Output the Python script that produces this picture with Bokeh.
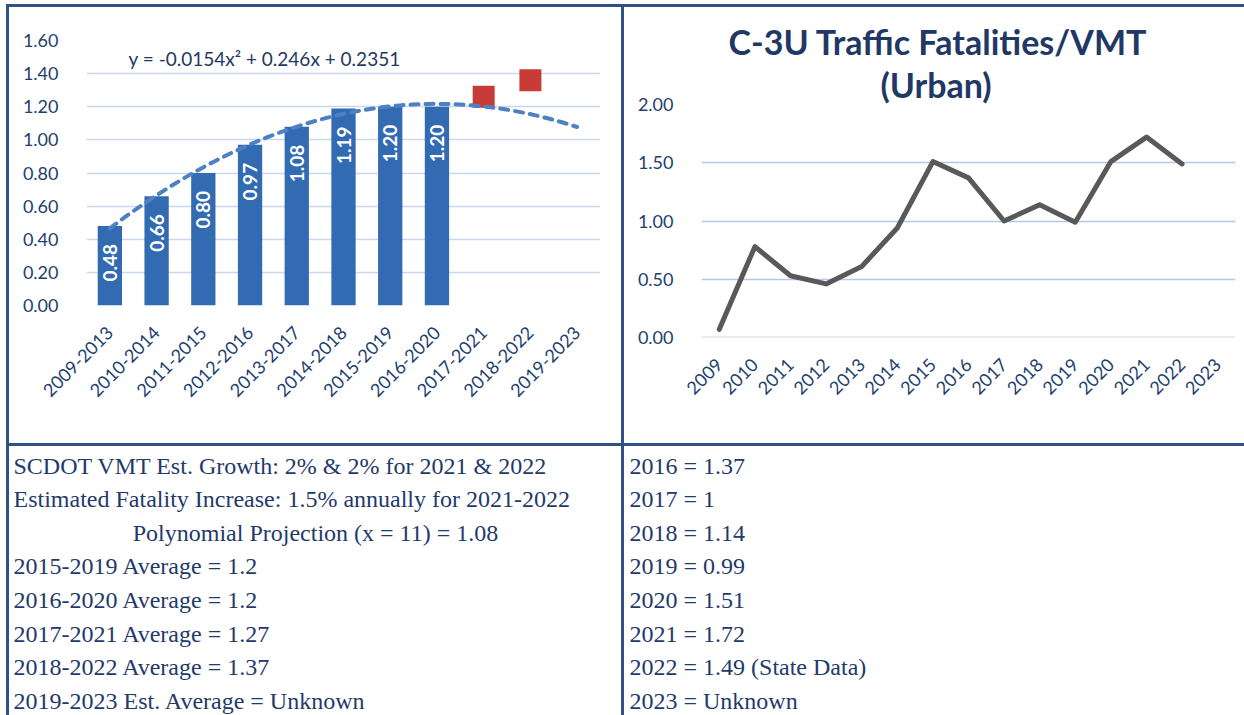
import math
import numpy as np
from bokeh.plotting import figure
from bokeh.models import Range1d, FixedTicker, Label, Title, Span, Div, PrintfTickFormatter
from bokeh.layouts import row, column
from bokeh.embed import file_html
from bokeh.resources import INLINE
from bokeh.core.properties import value

# ---------------- data ----------------
periods = ["2009-2013", "2010-2014", "2011-2015", "2012-2016", "2013-2017", "2014-2018",
           "2015-2019", "2016-2020", "2017-2021", "2018-2022", "2019-2023"]
avg_rates = [0.48, 0.66, 0.80, 0.97, 1.08, 1.19, 1.20, 1.20]
proj_idx = [9, 10]            # 2017-2021, 2018-2022
proj_rates = [1.26, 1.36]
trend_coef = [-0.0154, 0.246, 0.2351]
trend_label = "y = -0.0154x\u00b2 + 0.246x + 0.2351"
left_ticks = [0.0, 0.2, 0.4, 0.6, 0.8, 1.0, 1.2, 1.4, 1.6]

years = ["2009", "2010", "2011", "2012", "2013", "2014", "2015", "2016",
         "2017", "2018", "2019", "2020", "2021", "2022", "2023"]
annual_rates = [0.07, 0.78, 0.53, 0.46, 0.61, 0.94, 1.51, 1.37, 1.00, 1.14, 0.99, 1.51, 1.72, 1.49]
right_ticks = [0.0, 0.5, 1.0, 1.5, 2.0]
title_lines = ["C-3U Traffic Fatalities/VMT", "(Urban)"]
title_offsets = [27, 179]

notes_left = ["SCDOT VMT Est. Growth: 2% & 2% for 2021 & 2022",
              "Estimated Fatality Increase: 1.5% annually for 2021-2022",
              "Polynomial Projection (x = 11) = 1.08",
              "2015-2019 Average =  1.2",
              "2016-2020 Average =  1.2",
              "2017-2021 Average =  1.27",
              "2018-2022 Average =  1.37",
              "2019-2023 Est. Average =  Unknown"]
notes_right = ["2016 = 1.37", "2017 = 1", "2018 = 1.14", "2019 = 0.99", "2020 = 1.51",
               "2021 = 1.72", "2022 = 1.49 (State Data)", "2023 =  Unknown"]

# ---------------- styles ----------------
NAVY = "#2E5283"
AXTXT = "#22406E"
TBLTXT = "#1F3A6B"
GRID = "#C9D8EE"
FONT = "Lato"


def style_axes(p, xticks, xlabels, yticks):
    p.outline_line_color = None
    p.xgrid.visible = False
    p.ygrid.ticker = FixedTicker(ticks=yticks)
    p.ygrid.grid_line_color = GRID
    p.ygrid.grid_line_width = 1.5
    p.yaxis.ticker = FixedTicker(ticks=yticks)
    p.yaxis.formatter = PrintfTickFormatter(format="%.2f")
    p.xaxis.ticker = FixedTicker(ticks=xticks)
    p.xaxis.major_label_overrides = {t: lab for t, lab in zip(xticks, xlabels)}
    p.xaxis.major_label_orientation = math.pi / 4
    for ax in (p.xaxis, p.yaxis):
        ax.axis_line_color = None
        ax.major_tick_line_color = None
        ax.minor_tick_line_color = None
        ax.major_label_text_font = FONT
        ax.major_label_text_font_size = "18px"
        ax.major_label_text_color = AXTXT
    p.yaxis.major_label_standoff = 22
    p.xaxis.major_label_standoff = 18


# ---------------- left chart ----------------
x_idx = list(range(1, len(periods) + 1))
p1 = figure(width=612, height=436, x_range=Range1d(0.5, 11.5), y_range=Range1d(0, 1.6),
            output_backend="svg", toolbar_location=None, frame_align=False,
            min_border_left=77, min_border_right=21, min_border_top=33, min_border_bottom=138)
style_axes(p1, x_idx, periods, left_ticks)

bar_x = x_idx[:len(avg_rates)]
p1.vbar(x=bar_x, top=avg_rates, width=0.52, fill_color="#336BB3", line_color=None)
p1.text(x=bar_x, y=avg_rates, text=[f"{v:.2f}" for v in avg_rates], angle=math.pi / 2,
        text_align="right", text_baseline="middle", y_offset=18,
        text_color="white", text_font=value(FONT), text_font_style="bold",
        text_font_size="19px")
p1.scatter(x=proj_idx, y=proj_rates, marker="square", size=22,
           fill_color="#C83B36", line_color=None)
tx = np.linspace(1, 11, 80)
ty = np.polyval(trend_coef, tx)
p1.line(tx, ty, line_dash="8 7", line_width=4, line_color="#4E80C4", line_cap="round")
p1.add_layout(Label(x=1.4, y=1.49, text=trend_label, text_font=FONT, text_font_size="19px",
                    text_color="#1F3864", text_baseline="middle"))

# ---------------- right chart ----------------
y_idx = list(range(1, len(years) + 1))
p2 = figure(width=620, height=436, x_range=Range1d(0.5, 15.5), y_range=Range1d(0, 2.0),
            output_backend="svg", toolbar_location=None, frame_align=False,
            min_border_left=77, min_border_right=9, min_border_top=97, min_border_bottom=106)
style_axes(p2, y_idx, years, right_ticks)
p2.ygrid.grid_line_color = "#B4C7E7"
p2.add_layout(Span(location=0, dimension="width", line_color="#D9D9D9", line_width=2))
p2.line(x=y_idx[:len(annual_rates)], y=annual_rates, line_width=5, line_color="#595959",
        line_join="round", line_cap="round")
for t, off in reversed(list(zip(title_lines, title_offsets))):
    p2.add_layout(Title(text=t, align="left", offset=off, text_font=FONT,
                        text_font_style="bold", text_font_size="34px",
                        text_color="#1F3864", standoff=0), "above")

# ---------------- notes tables ----------------
row_y = [19 + 33.6 * i for i in range(len(notes_left))]


def table(width, notes, x0, center_rows=()):
    t = figure(width=width, height=269, x_range=Range1d(0, width), y_range=Range1d(269, 0),
               output_backend="svg", toolbar_location=None, min_border=0, frame_align=False)
    t.axis.visible = False
    t.grid.visible = False
    t.outline_line_color = None
    left = [i for i in range(len(notes)) if i not in center_rows]
    t.text(x=[x0] * len(left), y=[row_y[i] for i in left], text=[notes[i] for i in left],
           text_font=value("Liberation Serif"), text_font_size="24px", text_color=TBLTXT,
           text_baseline="middle", text_align="left")
    if center_rows:
        c = list(center_rows)
        t.text(x=[width / 2] * len(c), y=[row_y[i] for i in c], text=[notes[i] for i in c],
               text_font=value("Liberation Serif"), text_font_size="24px", text_color=TBLTXT,
               text_baseline="middle", text_align="center")
    return t


t1 = table(612, notes_left, 4, center_rows=(2,))
t2 = table(620, notes_right, 5)


def bar(w, h, color=NAVY):
    styles = {"background-color": color} if color else {}
    return Div(text="", width=w, height=h, margin=0, styles=styles)


inner = column(row(p1, bar(3, 436), p2), bar(1235, 3), row(t1, bar(3, 269), t2))
framed = column(bar(1238, 3), row(bar(3, 708), inner))
layout = column(bar(1244, 4, None), row(bar(6, 711, None), framed))

open("out.html", "w").write(file_html(layout, INLINE))
